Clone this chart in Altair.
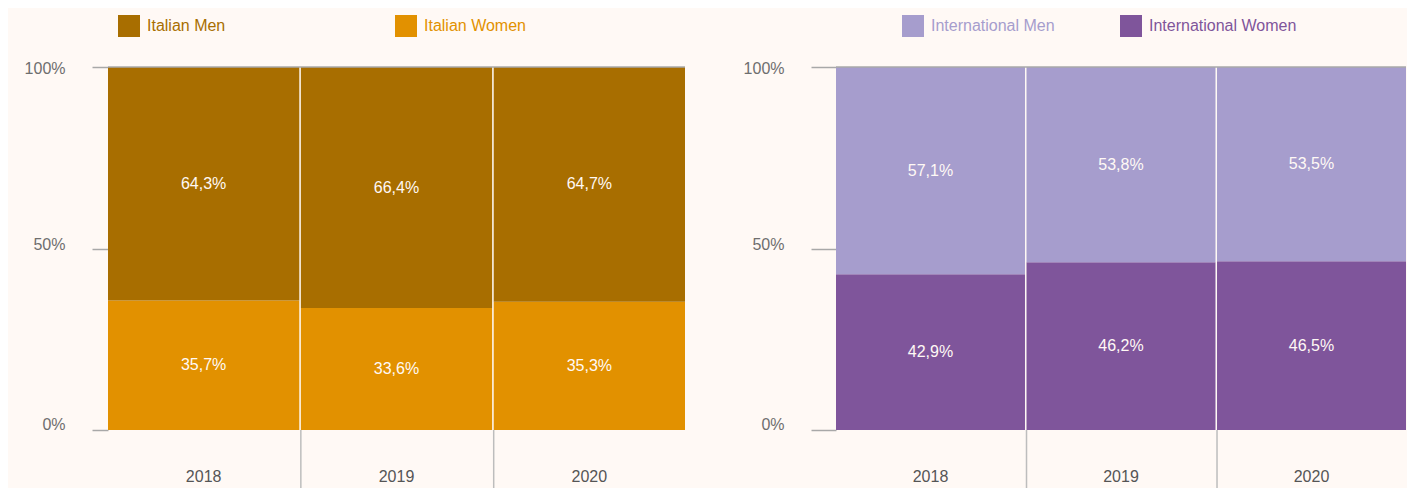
import altair as alt
import pandas as pd

# ---- data ----
years = ["2018", "2019", "2020"]
italian_men = [64.3, 66.4, 64.7]
italian_women = [35.7, 33.6, 35.3]
intl_men = [57.1, 53.8, 53.5]
intl_women = [42.9, 46.2, 46.5]

italian_names = ["Italian Men", "Italian Women"]
intl_names = ["International Men", "International Women"]
italian_colors = ["#A86E00", "#E29100"]
intl_colors = ["#A69DCD", "#7F559B"]
y_ticks = [0, 50, 100]

BG = "#FFF9F5"
FONT = "Liberation Sans"
AXIS_GREY = "#6E6E6E"
LINE_GREY = "#A8A8A8"


def frame(men, women, names):
    rows = []
    for i, y in enumerate(years):
        rows.append({"year": y, "group": names[1], "order": 0, "value": women[i]})
        rows.append({"year": y, "group": names[0], "order": 1, "value": men[i]})
    df = pd.DataFrame(rows)
    df["label"] = df["value"].map(lambda v: f"{v:.1f}".replace(".", ",") + "%")
    return df


def panel(men, women, names, colors, width, tick_size, legend_x, col_pad):
    df = frame(men, women, names)
    height = 363
    base = alt.Chart(df).transform_stack(
        stack="value", groupby=["year"], as_=["v0", "v1"],
        sort=[alt.SortField("order", order="ascending")],
    ).transform_calculate(mid="(datum.v0 + datum.v1) / 2")

    xenc = alt.X(
        "year:N", sort=years, title=None,
        scale=alt.Scale(paddingInner=0.008, paddingOuter=0),
        axis=alt.Axis(labelAngle=0, ticks=False, tickSize=0, domain=False,
                      labelPadding=38, labelFont=FONT, labelFontSize=16,
                      labelColor="#555555", grid=False),
    )
    yscale = alt.Scale(domain=[0, 100], nice=False, zero=True)

    label_expr = (
        f"datum.label == '{names[0]}' ? '{colors[0]}' : '{colors[1]}'"
    )
    bars = base.mark_bar(strokeWidth=0).encode(
        x=xenc,
        y=alt.Y("v0:Q", scale=yscale, title=None,
                axis=alt.Axis(values=y_ticks, labelExpr="datum.value + '%'",
                              domain=False, grid=False, tickSize=tick_size,
                              tickColor=LINE_GREY, tickWidth=1.5,
                              labelPadding=27, labelFont=FONT,
                              labelFontSize=16, labelColor=AXIS_GREY,
                              labelBaseline="middle",
                              labelOffset=alt.ExprRef(
                                  expr="datum.value == 100 ? 1 : (datum.value == 50 ? -4 : -6)"))),
        y2="v1:Q",
        color=alt.Color(
            "group:N",
            scale=alt.Scale(domain=names, range=colors),
            legend=alt.Legend(
                title=None, orient="none", direction="horizontal",
                legendX=legend_x, legendY=-52, padding=0,
                symbolType="square", symbolSize=484, symbolStrokeWidth=0,
                symbolOpacity=1,
                labelFont=FONT, labelFontSize=16, labelOffset=7,
                labelLimit=400, columnPadding=col_pad,
                labelColor=alt.ExprRef(expr=label_expr),
            ),
        ),
    )

    texts = base.mark_text(font=FONT, fontSize=16, color=BG,
                           baseline="middle").encode(
        x=alt.X("year:N", sort=years),
        y=alt.Y("mid:Q", scale=yscale),
        text="label:N",
    )

    top_rule = alt.Chart(pd.DataFrame({"v": [100]})).mark_rule(
        color=LINE_GREY, strokeWidth=1.5
    ).encode(y=alt.Y("v:Q", scale=yscale))

    sep = alt.Chart(pd.DataFrame({"year": years[1:]})).mark_rule(
        color="#BDBDBD", strokeWidth=1.5
    ).encode(
        x=alt.X("year:N", sort=years, bandPosition=0),
        y=alt.Y(datum=0, scale=yscale),
        y2=alt.value(height + 70),
    )

    return alt.layer(bars, texts, top_rule, sep).properties(
        width=width, height=height
    )


left = panel(italian_men, italian_women, italian_names, italian_colors,
             577, 16, 10, 169)
right = panel(intl_men, intl_women, intl_names, intl_colors,
              570, 25, 66, 65)

chart = alt.hconcat(left, right, spacing=57).resolve_scale(
    color="independent"
).properties(
    padding={"left": 16, "top": 7, "right": 0, "bottom": 0},
    background=BG,
).configure_view(stroke=None)

chart.save("out.html", embed_options={"renderer": "svg", "actions": False})
